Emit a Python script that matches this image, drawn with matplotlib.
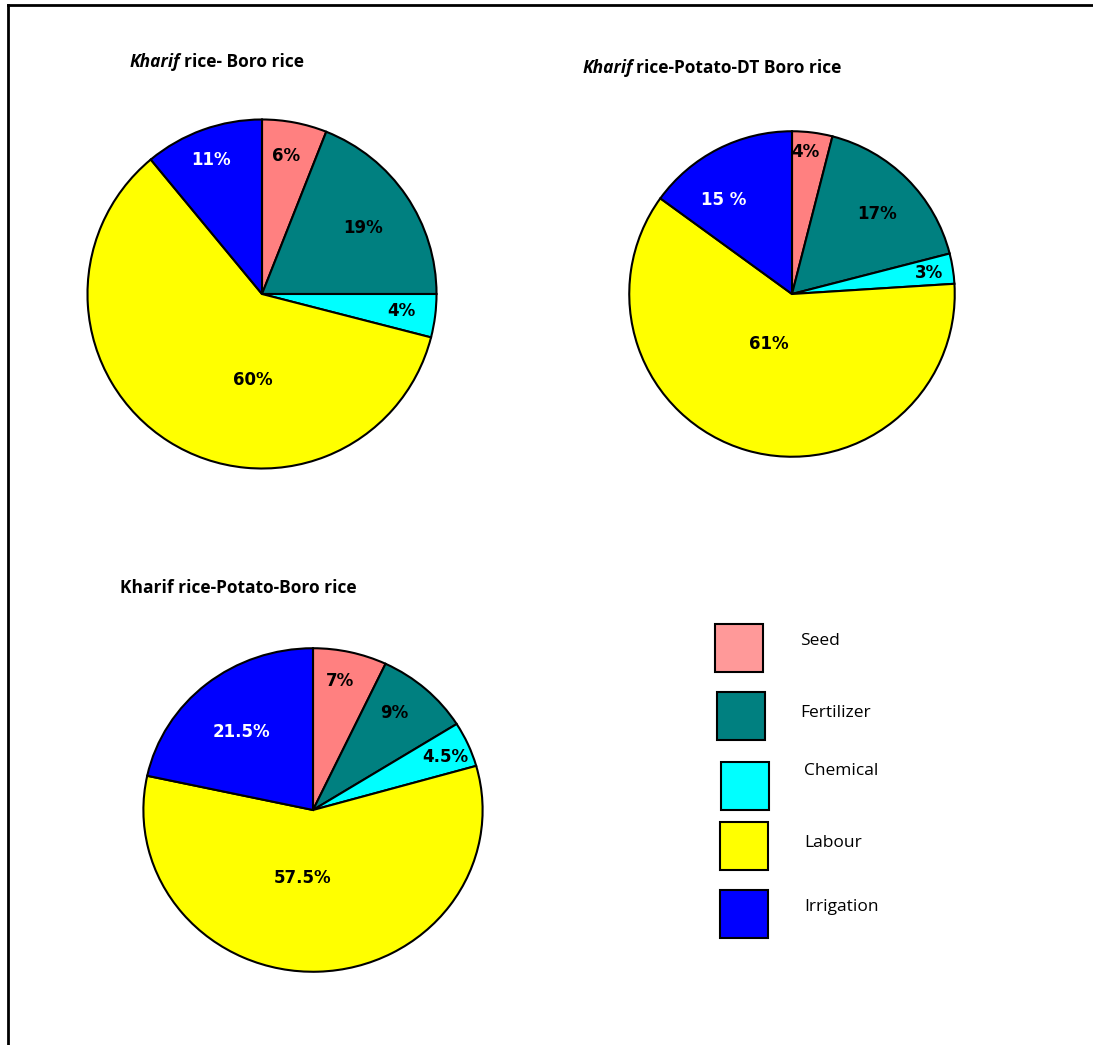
import matplotlib.pyplot as plt
from matplotlib.patches import Rectangle
from matplotlib.lines import Line2D

# cost share of inputs (%) for each cropping pattern
inputs = ["Seed", "Fertilizer", "Chemical", "Labour", "Irrigation"]
boro = [6, 19, 4, 60, 11]
dt_boro = [4, 17, 3, 61, 15]
potato_boro = [7, 9, 4.5, 57.5, 21.5]
boro_labels = ["6%", "19%", "4%", "60%", "11%"]
dt_boro_labels = ["4%", "17%", "3%", "61%", "15 %"]
potato_boro_labels = ["7%", "9%", "4.5%", "57.5%", "21.5%"]

pie_colors = ["#FF8080", "#008080", "#00FFFF", "#FFFF00", "#0000FF"]
legend_colors = ["#FF9999", "#008080", "#00FFFF", "#FFFF00", "#0000FF"]
text_colors = ["black", "black", "black", "black", "white"]

W, H = 1093, 1045
fig = plt.figure(figsize=(W / 100, H / 100), dpi=100)
narrow = ["Open Sans", "DejaVu Sans"]


def px_axes(cx, cy, rx, ry):
    return fig.add_axes([(cx - rx) / W, (H - cy - ry) / H, 2 * rx / W, 2 * ry / H])


def draw_pie(ax, values, labels, label_pos):
    ax.pie(values, colors=pie_colors, startangle=90, counterclock=False,
           radius=1, wedgeprops=dict(edgecolor="black", linewidth=1.5))
    ax.set_xlim(-1.02, 1.02)
    ax.set_ylim(-1.02, 1.02)
    ax.set_aspect("auto")
    for lab, (x, y), c in zip(labels, label_pos, text_colors):
        ax.text(x, y, lab, ha="center", va="center", color=c,
                fontsize=12, fontweight="bold", family="DejaVu Sans")


# label positions in pie units (x, y)
pos1 = [(0.14, 0.79), (0.58, 0.38), (0.80, -0.10), (-0.05, -0.49), (-0.29, 0.77)]
pos2 = [(0.08, 0.87), (0.52, 0.49), (0.84, 0.13), (-0.14, -0.31), (-0.42, 0.58)]
pos3 = [(0.16, 0.80), (0.48, 0.60), (0.78, 0.33), (-0.06, -0.42), (-0.42, 0.48)]

ax1 = px_axes(262, 294, 178, 178)
draw_pie(ax1, boro, boro_labels, pos1)
ax2 = px_axes(792, 294, 166, 166)
draw_pie(ax2, dt_boro, dt_boro_labels, pos2)
ax3 = px_axes(313, 810, 173, 165)
draw_pie(ax3, potato_boro, potato_boro_labels, pos3)

tkw = dict(fontsize=12.5, fontweight="bold", fontstretch="condensed",
           family=narrow, va="center", ha="left")


def title(x, y, italic, rest):
    a = fig.text(x / W, 1 - y / H, italic, style="italic", **tkw)
    fig.canvas.draw()
    bb = a.get_window_extent()
    fig.text((bb.x1 + 3) / W, 1 - y / H, rest, **tkw)


title(130, 62, "Kharif", "rice- Boro rice")
title(583, 68, "Kharif", "rice-Potato-DT Boro rice")
fig.text(120 / W, 1 - 588 / H, "Kharif rice-Potato-Boro rice", **tkw)

# legend boxes drawn by hand
box_xy = [(715, 624), (717, 692), (721, 762), (720, 822), (720, 890)]
text_xy = [(800, 641), (800, 713), (804, 771), (804, 843), (804, 907)]
for (bx, by), (tx, ty), name, col in zip(box_xy, text_xy, inputs, legend_colors):
    fig.add_artist(Rectangle((bx / W, 1 - (by + 48) / H), 48 / W, 48 / H,
                             facecolor=col, edgecolor="black", linewidth=1.5,
                             transform=fig.transFigure))
    fig.text(tx / W, 1 - ty / H, name, fontsize=12.5, family=narrow,
             va="center", ha="left")

# frame lines
fig.add_artist(Line2D([8 / W, 8 / W], [0, 1 - 5 / H], color="black", lw=2,
                      transform=fig.transFigure))
fig.add_artist(Line2D([8 / W, 1], [1 - 5 / H, 1 - 5 / H], color="black", lw=2,
                      transform=fig.transFigure))

fig.savefig("out.png", dpi=100)
